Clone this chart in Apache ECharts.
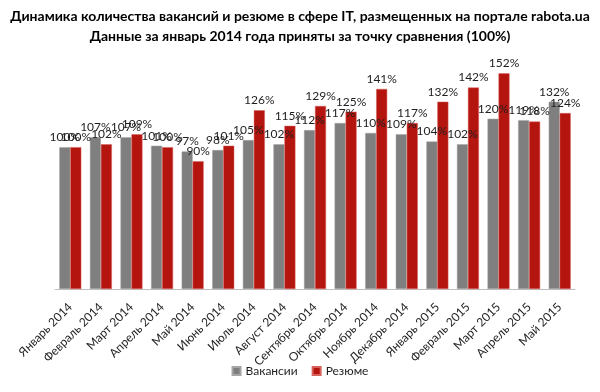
<!DOCTYPE html>
<html><head><meta charset="utf-8">
<script src="https://cdn.jsdelivr.net/npm/echarts@6/dist/echarts.min.js"></script>
<style>html,body{margin:0;padding:0;background:#fff}#c{width:600px;height:392px}</style>
</head><body><div id="c"></div>
<script>
var categories = ['Январь 2014','Февраль 2014','Март 2014','Апрель 2014','Май 2014','Июнь 2014','Июль 2014','Август 2014','Сентябрь 2014','Октябрь 2014','Ноябрь 2014','Декабрь 2014','Январь 2015','Февраль 2015','Март 2015','Апрель 2015','Май 2015'];
var vacancies = [100,107,107,101,97,98,105,102,112,117,110,109,104,102,120,119,132];
var resumes = [100,102,109,100,90,101,126,115,129,125,141,117,132,142,152,118,124];
var seriesNames = ['Вакансии','Резюме'];
var titleText = 'Динамика количества вакансий и резюме в сфере IT, размещенных на портале rabota.ua\nДанные за январь 2014 года приняты за точку сравнения (100%)';

var font = 'Lato';
var chart = echarts.init(document.getElementById('c'), null, {renderer:'canvas'});
function lbl(){return {show:true,position:'top',distance:4,formatter:'{c}%',color:'#1f1f1f',fontSize:12,fontFamily:font};}
chart.setOption({
  animation:false,
  title:{text:titleText,left:'center',top:1,textStyle:{fontFamily:font,fontWeight:'bold',fontSize:14,color:'#000',lineHeight:20}},
  legend:{bottom:10,left:'center',itemWidth:8,itemHeight:8,itemGap:14,icon:'rect',textStyle:{fontFamily:font,fontSize:12,color:'#1f1f1f'},data:seriesNames},
  grid:{left:55,right:25,top:62,bottom:103,containLabel:false},
  xAxis:{type:'category',data:categories,axisLine:{lineStyle:{color:'#bfbfbf'}},axisTick:{show:false},
    axisLabel:{rotate:45,interval:0,fontFamily:font,fontSize:12,color:'#1f1f1f',margin:16}},
  yAxis:{type:'value',min:0,max:160,show:false,splitLine:{show:false}},
  series:[
    {name:seriesNames[0],type:'bar',data:vacancies,barWidth:11,barGap:'0%',itemStyle:{color:'#7f7f7f',borderColor:'#a6a6a6',borderWidth:0.5},label:lbl()},
    {name:seriesNames[1],type:'bar',data:resumes,barWidth:11,itemStyle:{color:'#b5150f',borderColor:'#d9615c',borderWidth:0.5},label:lbl()}
  ]
});
</script></body></html>
